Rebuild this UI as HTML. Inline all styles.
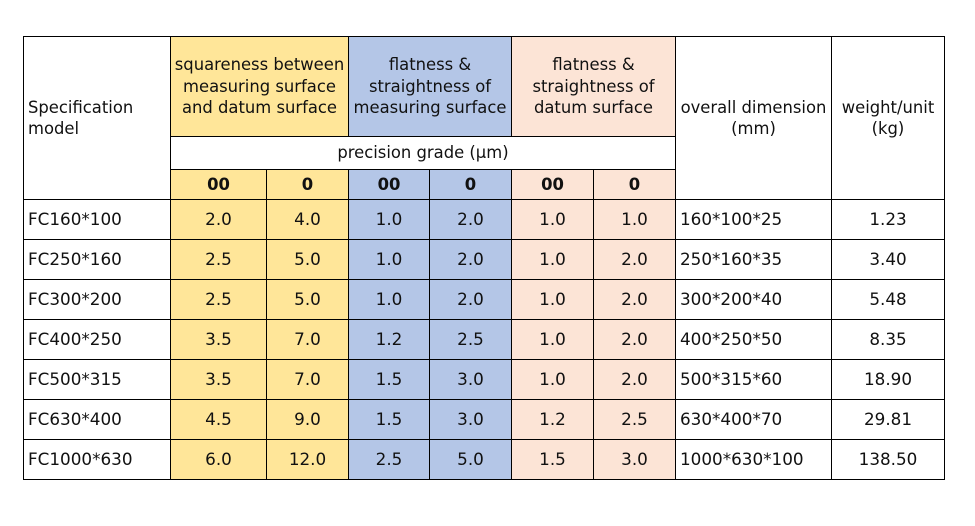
<!DOCTYPE html>
<html>
<head>
<meta charset="utf-8">
<style>
html,body{margin:0;padding:0;background:#fff;}
body{width:975px;height:526px;position:relative;overflow:hidden;font-family:"DejaVu Sans","Liberation Sans",sans-serif;font-size:16.4px;color:#111;}
.c{position:absolute;box-sizing:border-box;border:1px solid #000;display:flex;align-items:center;justify-content:center;text-align:center;line-height:21.5px;}
.d{font-size:16.8px;}
.l{justify-content:flex-start;text-align:left;padding-left:4px;}
.y{background:#FFE699;}
.b{background:#B4C6E7;}
.p{background:#FCE4D6;}
.w{background:#fff;}
.bold{font-weight:bold;}
</style>
</head>
<body>
<!-- header -->
<div class="c l w" style="left:23px;top:36px;width:148px;height:164px;">Specification<br>model</div>
<div class="c y" style="left:170px;top:36px;width:179px;height:101px;">squareness between<br>measuring surface<br>and datum surface</div>
<div class="c b" style="left:348px;top:36px;width:164px;height:101px;">flatness &amp;<br>straightness of<br>measuring surface</div>
<div class="c p" style="left:511px;top:36px;width:165px;height:101px;">flatness &amp;<br>straightness of<br>datum surface</div>
<div class="c w" style="left:675px;top:36px;width:157px;height:164px;">overall dimension<br>(mm)</div>
<div class="c w" style="left:831px;top:36px;width:114px;height:164px;">weight/unit<br>(kg)</div>
<div class="c w" style="left:170px;top:136px;width:506px;height:34px;">precision grade (µm)</div>
<div class="c y bold" style="left:170px;top:169px;width:97px;height:31px;">00</div>
<div class="c y bold" style="left:266px;top:169px;width:83px;height:31px;">0</div>
<div class="c b bold" style="left:348px;top:169px;width:82px;height:31px;">00</div>
<div class="c b bold" style="left:429px;top:169px;width:83px;height:31px;">0</div>
<div class="c p bold" style="left:511px;top:169px;width:83px;height:31px;">00</div>
<div class="c p bold" style="left:593px;top:169px;width:83px;height:31px;">0</div>

<!-- row 1 -->
<div class="c d l w" style="left:23px;top:199px;width:148px;height:41px;">FC160*100</div>
<div class="c d y" style="left:170px;top:199px;width:97px;height:41px;">2.0</div>
<div class="c d y" style="left:266px;top:199px;width:83px;height:41px;">4.0</div>
<div class="c d b" style="left:348px;top:199px;width:82px;height:41px;">1.0</div>
<div class="c d b" style="left:429px;top:199px;width:83px;height:41px;">2.0</div>
<div class="c d p" style="left:511px;top:199px;width:83px;height:41px;">1.0</div>
<div class="c d p" style="left:593px;top:199px;width:83px;height:41px;">1.0</div>
<div class="c d l w" style="left:675px;top:199px;width:157px;height:41px;">160*100*25</div>
<div class="c d w" style="left:831px;top:199px;width:114px;height:41px;">1.23</div>

<!-- row 2 -->
<div class="c d l w" style="left:23px;top:239px;width:148px;height:41px;">FC250*160</div>
<div class="c d y" style="left:170px;top:239px;width:97px;height:41px;">2.5</div>
<div class="c d y" style="left:266px;top:239px;width:83px;height:41px;">5.0</div>
<div class="c d b" style="left:348px;top:239px;width:82px;height:41px;">1.0</div>
<div class="c d b" style="left:429px;top:239px;width:83px;height:41px;">2.0</div>
<div class="c d p" style="left:511px;top:239px;width:83px;height:41px;">1.0</div>
<div class="c d p" style="left:593px;top:239px;width:83px;height:41px;">2.0</div>
<div class="c d l w" style="left:675px;top:239px;width:157px;height:41px;">250*160*35</div>
<div class="c d w" style="left:831px;top:239px;width:114px;height:41px;">3.40</div>

<!-- row 3 -->
<div class="c d l w" style="left:23px;top:279px;width:148px;height:41px;">FC300*200</div>
<div class="c d y" style="left:170px;top:279px;width:97px;height:41px;">2.5</div>
<div class="c d y" style="left:266px;top:279px;width:83px;height:41px;">5.0</div>
<div class="c d b" style="left:348px;top:279px;width:82px;height:41px;">1.0</div>
<div class="c d b" style="left:429px;top:279px;width:83px;height:41px;">2.0</div>
<div class="c d p" style="left:511px;top:279px;width:83px;height:41px;">1.0</div>
<div class="c d p" style="left:593px;top:279px;width:83px;height:41px;">2.0</div>
<div class="c d l w" style="left:675px;top:279px;width:157px;height:41px;">300*200*40</div>
<div class="c d w" style="left:831px;top:279px;width:114px;height:41px;">5.48</div>

<!-- row 4 -->
<div class="c d l w" style="left:23px;top:319px;width:148px;height:41px;">FC400*250</div>
<div class="c d y" style="left:170px;top:319px;width:97px;height:41px;">3.5</div>
<div class="c d y" style="left:266px;top:319px;width:83px;height:41px;">7.0</div>
<div class="c d b" style="left:348px;top:319px;width:82px;height:41px;">1.2</div>
<div class="c d b" style="left:429px;top:319px;width:83px;height:41px;">2.5</div>
<div class="c d p" style="left:511px;top:319px;width:83px;height:41px;">1.0</div>
<div class="c d p" style="left:593px;top:319px;width:83px;height:41px;">2.0</div>
<div class="c d l w" style="left:675px;top:319px;width:157px;height:41px;">400*250*50</div>
<div class="c d w" style="left:831px;top:319px;width:114px;height:41px;">8.35</div>

<!-- row 5 -->
<div class="c d l w" style="left:23px;top:359px;width:148px;height:41px;">FC500*315</div>
<div class="c d y" style="left:170px;top:359px;width:97px;height:41px;">3.5</div>
<div class="c d y" style="left:266px;top:359px;width:83px;height:41px;">7.0</div>
<div class="c d b" style="left:348px;top:359px;width:82px;height:41px;">1.5</div>
<div class="c d b" style="left:429px;top:359px;width:83px;height:41px;">3.0</div>
<div class="c d p" style="left:511px;top:359px;width:83px;height:41px;">1.0</div>
<div class="c d p" style="left:593px;top:359px;width:83px;height:41px;">2.0</div>
<div class="c d l w" style="left:675px;top:359px;width:157px;height:41px;">500*315*60</div>
<div class="c d w" style="left:831px;top:359px;width:114px;height:41px;">18.90</div>

<!-- row 6 -->
<div class="c d l w" style="left:23px;top:399px;width:148px;height:41px;">FC630*400</div>
<div class="c d y" style="left:170px;top:399px;width:97px;height:41px;">4.5</div>
<div class="c d y" style="left:266px;top:399px;width:83px;height:41px;">9.0</div>
<div class="c d b" style="left:348px;top:399px;width:82px;height:41px;">1.5</div>
<div class="c d b" style="left:429px;top:399px;width:83px;height:41px;">3.0</div>
<div class="c d p" style="left:511px;top:399px;width:83px;height:41px;">1.2</div>
<div class="c d p" style="left:593px;top:399px;width:83px;height:41px;">2.5</div>
<div class="c d l w" style="left:675px;top:399px;width:157px;height:41px;">630*400*70</div>
<div class="c d w" style="left:831px;top:399px;width:114px;height:41px;">29.81</div>

<!-- row 7 -->
<div class="c d l w" style="left:23px;top:439px;width:148px;height:41px;">FC1000*630</div>
<div class="c d y" style="left:170px;top:439px;width:97px;height:41px;">6.0</div>
<div class="c d y" style="left:266px;top:439px;width:83px;height:41px;">12.0</div>
<div class="c d b" style="left:348px;top:439px;width:82px;height:41px;">2.5</div>
<div class="c d b" style="left:429px;top:439px;width:83px;height:41px;">5.0</div>
<div class="c d p" style="left:511px;top:439px;width:83px;height:41px;">1.5</div>
<div class="c d p" style="left:593px;top:439px;width:83px;height:41px;">3.0</div>
<div class="c d l w" style="left:675px;top:439px;width:157px;height:41px;">1000*630*100</div>
<div class="c d w" style="left:831px;top:439px;width:114px;height:41px;">138.50</div>
</body>
</html>
